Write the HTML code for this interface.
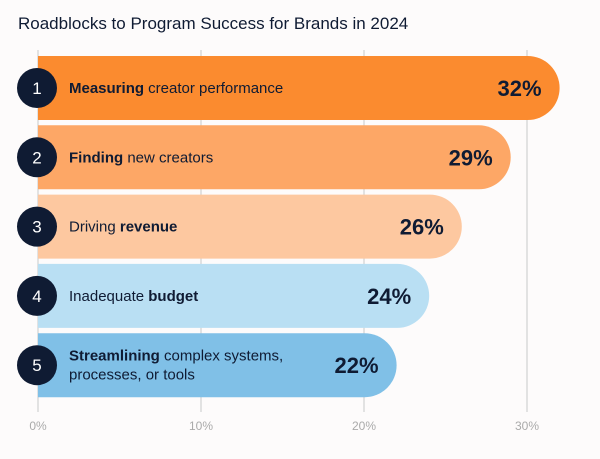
<!DOCTYPE html>
<html><head><meta charset="utf-8"><style>
body{margin:0;background:#fdfbfb;font-family:"Liberation Sans",sans-serif;}
#wrap{position:relative;width:600px;height:459px;overflow:hidden;background:#fdfbfb}
#title{position:absolute;left:18px;top:14px;font-size:17px;color:#0f1b33}
</style></head><body>
<div id="wrap">
<div id="title">Roadblocks to Program Success for Brands in 2024</div>
<svg id="svg" width="600" height="459" style="position:absolute;left:0;top:0"></svg>
</div>
<script>
const categories=[["<tspan font-weight='bold'>Measuring</tspan> creator performance"],["<tspan font-weight='bold'>Finding</tspan> new creators"],["Driving <tspan font-weight='bold'>revenue</tspan>"],["Inadequate <tspan font-weight='bold'>budget</tspan>"],["<tspan font-weight='bold'>Streamlining</tspan> complex systems,","processes, or tools"]];
const values=[32,29,26,24,22];
const tickValues=[0,10,20,30];
const tickLabels=["0%","10%","20%","30%"];
const colors=["#fb8b2f","#fda766","#fdc8a0","#b9dff3","#80c0e7"];
const svg=document.getElementById('svg');
const NS="http://www.w3.org/2000/svg";
const x=v=>38+v*16.3;
const rowTop=i=>56+i*69.3;
const H=64;
function mk(t,a){const e=document.createElementNS(NS,t);for(const k in a)e.setAttribute(k,a[k]);svg.appendChild(e);return e;}
tickValues.forEach((t,i)=>{
  const l=mk('line',{x1:x(t),x2:x(t),y1:50,y2:412,stroke:'#d9d9d9','stroke-width':1.5});
  
  
  const tx=mk('text',{x:x(t),y:430,'text-anchor':'middle','font-size':12,fill:'#aaa'});
  tx.textContent=tickLabels[i];
  
  
});
values.forEach((v,i)=>{
  const y0=rowTop(i),r=H/2,x1=x(v);
  const p=mk('path',{d:`M${x(0)},${y0}H${x1-r}A${r},${r} 0 0 1 ${x1-r},${y0+H}H${x(0)}Z`,fill:colors[i]});
  
  
  const c=mk('circle',{cx:37,cy:y0+H/2,r:20,fill:'#0f1b33'});
  
  
  const n=mk('text',{x:37,y:y0+H/2+6,'text-anchor':'middle','font-size':17,fill:'#fff'});
  n.textContent=i+1;
  
  
  const lines=categories[i];
  lines.forEach((s,j)=>{
    const ty=y0+H/2+5+(j-(lines.length-1)/2)*19;
    const t=mk('text',{x:69,y:ty,'font-size':15,fill:'#0f1b33'});
    t.innerHTML=s;
    
    
  });
  const vt=mk('text',{x:x1-18,y:y0+H/2+8,'text-anchor':'end','font-size':22,'font-weight':'bold',fill:'#0f1b33'});
  vt.textContent=v+'%';
  
  
});
</script>
</body></html>
